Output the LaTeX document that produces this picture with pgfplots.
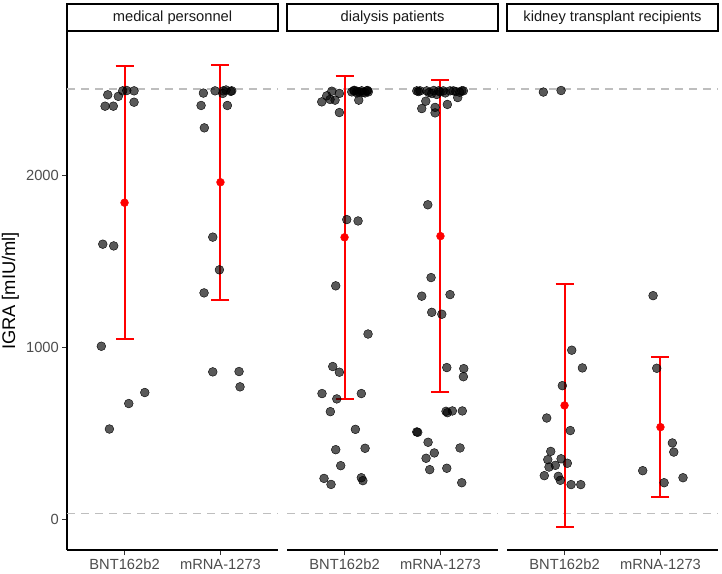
\documentclass[border=0pt]{standalone}
\usepackage{pgfplots}
\pgfplotsset{compat=1.18}
\usepackage{fontspec}
\setmainfont{Liberation Sans}
\definecolor{dashgray}{HTML}{BEBEBE}
\definecolor{ticktext}{HTML}{4D4D4D}
\definecolor{striptext}{HTML}{1A1A1A}
\newcommand{\tickfont}{\fontsize{14.7}{17}\selectfont}
\newcommand{\titlefont}{\fontsize{18.3}{21}\selectfont}
\pgfplotsset{
  panel/.style={
    width=211pt, height=518pt, scale only axis,
    xmin=0.4, xmax=2.6, ymin=-178, ymax=2832,
    anchor=south west,
    axis x line*=bottom, xtick pos=lower,
    axis line style={line width=1.2pt, black},
    xtick={1,2}, xticklabels={BNT162b2,mRNA-1273},
    tick align=outside, major tick length=5pt,
    tick style={line width=1.1pt, black!80},
    /pgf/number format/assume math mode=true,
    xticklabel style={font=\tickfont, text=ticktext, inner sep=0pt, yshift=-4pt},
    yticklabel style={font=\tickfont, text=ticktext, inner sep=0pt, xshift=-3pt},
    clip=false,
  },
  pts/.style={only marks, mark=*, mark size=4.4pt,
    mark options={draw=none, fill=black, fill opacity=0.65}},
  hl/.style={dashgray, line width=1.3pt, dash pattern=on 8pt off 6pt, forget plot},
  eb/.style={red, only marks, mark=*, mark size=3.9pt, line width=2pt, mark options={fill=red, draw=red, line width=0.5pt},
    error bars/.cd, y dir=both, y explicit,
    error bar style={line width=2pt, red},
    error mark options={rotate=90, mark size=9pt, line width=2pt, red}},
}
\newcommand{\strip}[1]{%
  \draw[line width=1.2pt, black, fill=white] (rel axis cs:0,1) ++(0pt,1pt) rectangle ([yshift=28pt]rel axis cs:1,1);
  \node[font=\tickfont, text=striptext, anchor=center] at ([yshift=14.5pt]rel axis cs:0.5,1) {#1};
}
\begin{document}
\begin{tikzpicture}
\path[use as bounding box] (0pt,0pt) rectangle (722pt,573pt);
% ---------------- medical personnel
\begin{axis}[panel, at={(67pt,23pt)},
  axis y line*=left, ytick pos=left, ytick={0,1000,2000}, yticklabels={0,1000,2000},
  ylabel={IGRA [mIU/ml]},
  ylabel style={font=\titlefont, text=black, at={(rel axis cs:0,0.5)}, anchor=south, inner sep=0pt, yshift=48pt},
]
\addplot[hl] coordinates {(0.4,2500) (2.6,2500)};
\addplot[hl] coordinates {(0.4,35) (2.6,35)};
\addplot[pts] coordinates {
(0.825,2467) (0.797,2401) (0.883,2401) (0.935,2458) (0.981,2490) (1.023,2492)
(1.099,2490) (1.099,2424) (0.773,1599) (0.887,1589) (0.758,1006) (0.842,525)
(1.044,673) (1.211,737)
(1.822,2477) (1.798,2405) (1.832,2275) (1.944,2490) (2.024,2475) (2.030,2490)
(2.107,2487) (2.118,2490) (2.072,2405) (2.058,2495) (1.920,1640) (1.989,1450)
(1.829,1316) (1.920,857) (2.194,859) (2.204,770)
};
\addplot[eb] coordinates {(1,1840) +- (0,793) (2,1959) +- (0,684)};
\strip{medical personnel}
\end{axis}
% ---------------- dialysis patients
\begin{axis}[panel, at={(287pt,23pt)}, axis y line=none, ytick=\empty]
\addplot[hl] coordinates {(0.4,2500) (2.6,2500)};
\addplot[hl] coordinates {(0.4,35) (2.6,35)};
\addplot[pts] coordinates {
(0.762,2426) (0.814,2461) (0.867,2488) (0.849,2440) (0.901,2436) (0.946,2475)
(0.946,2364) (1.075,2484) (1.127,2488) (1.154,2484) (1.179,2490) (1.214,2478)
(1.248,2484) (1.148,2436) (1.099,2490) (1.231,2490)
(1.100,2493) (1.190,2480) (1.240,2492) (1.130,2478)
(1.023,1742) (1.141,1734) (0.908,1357) (1.245,1077) (0.877,888) (0.946,855)
(0.765,731) (0.919,700) (1.175,731) (0.852,626) (1.113,523) (0.908,405)
(1.214,413) (0.960,312) (0.786,238) (0.859,203) (1.175,242) (1.191,225)
(1.753,2490) (1.805,2387) (1.847,2430) (1.857,2490) (1.909,2475) (1.944,2394)
(1.944,2362) (1.961,2469) (2.030,2490) (2.072,2411) (2.100,2490) (2.135,2490)
(2.180,2451) (2.222,2490) (2.239,2490) (1.787,2490) (1.996,2484)
(1.770,2486) (1.880,2480) (1.980,2490) (2.050,2478) (2.160,2486) (2.200,2482) (1.930,2492)
(1.868,1828) (1.902,1405) (1.805,1297) (2.100,1306) (1.909,1203) (2.014,1192)
(2.066,882) (2.243,876) (2.239,829) (2.058,628) (2.072,620) (2.124,630)
(2.228,630) (1.753,508) (1.763,506) (1.871,448) (1.936,386) (1.850,355)
(1.888,289) (2.066,297) (2.204,415) (2.222,213)
};
\addplot[eb] coordinates {(1,1639) +- (0,940) (2,1646) +- (0,908)};
\strip{dialysis patients}
\end{axis}
% ---------------- kidney transplant recipients
\begin{axis}[panel, at={(507pt,23pt)}, axis y line=none, ytick=\empty]
\addplot[hl] coordinates {(0.4,2500) (2.6,2500)};
\addplot[hl] coordinates {(0.4,35) (2.6,35)};
\addplot[pts] coordinates {
(0.779,2483) (0.964,2492) (1.075,983) (1.186,880) (0.977,777) (0.814,589)
(1.060,516) (0.856,395) (0.825,347) (0.964,352) (1.029,326) (0.838,304)
(0.904,314) (0.789,254) (0.935,250) (0.956,227) (1.068,202) (1.169,202)
(1.923,1300) (1.961,878) (2.124,444) (2.139,391) (1.815,283) (2.038,213) (2.235,242)
};
\addplot[eb] coordinates {(1,662) +- (0,704) (2,536) +- (0,406)};
\strip{kidney transplant recipients}
\end{axis}
\end{tikzpicture}
\end{document}
